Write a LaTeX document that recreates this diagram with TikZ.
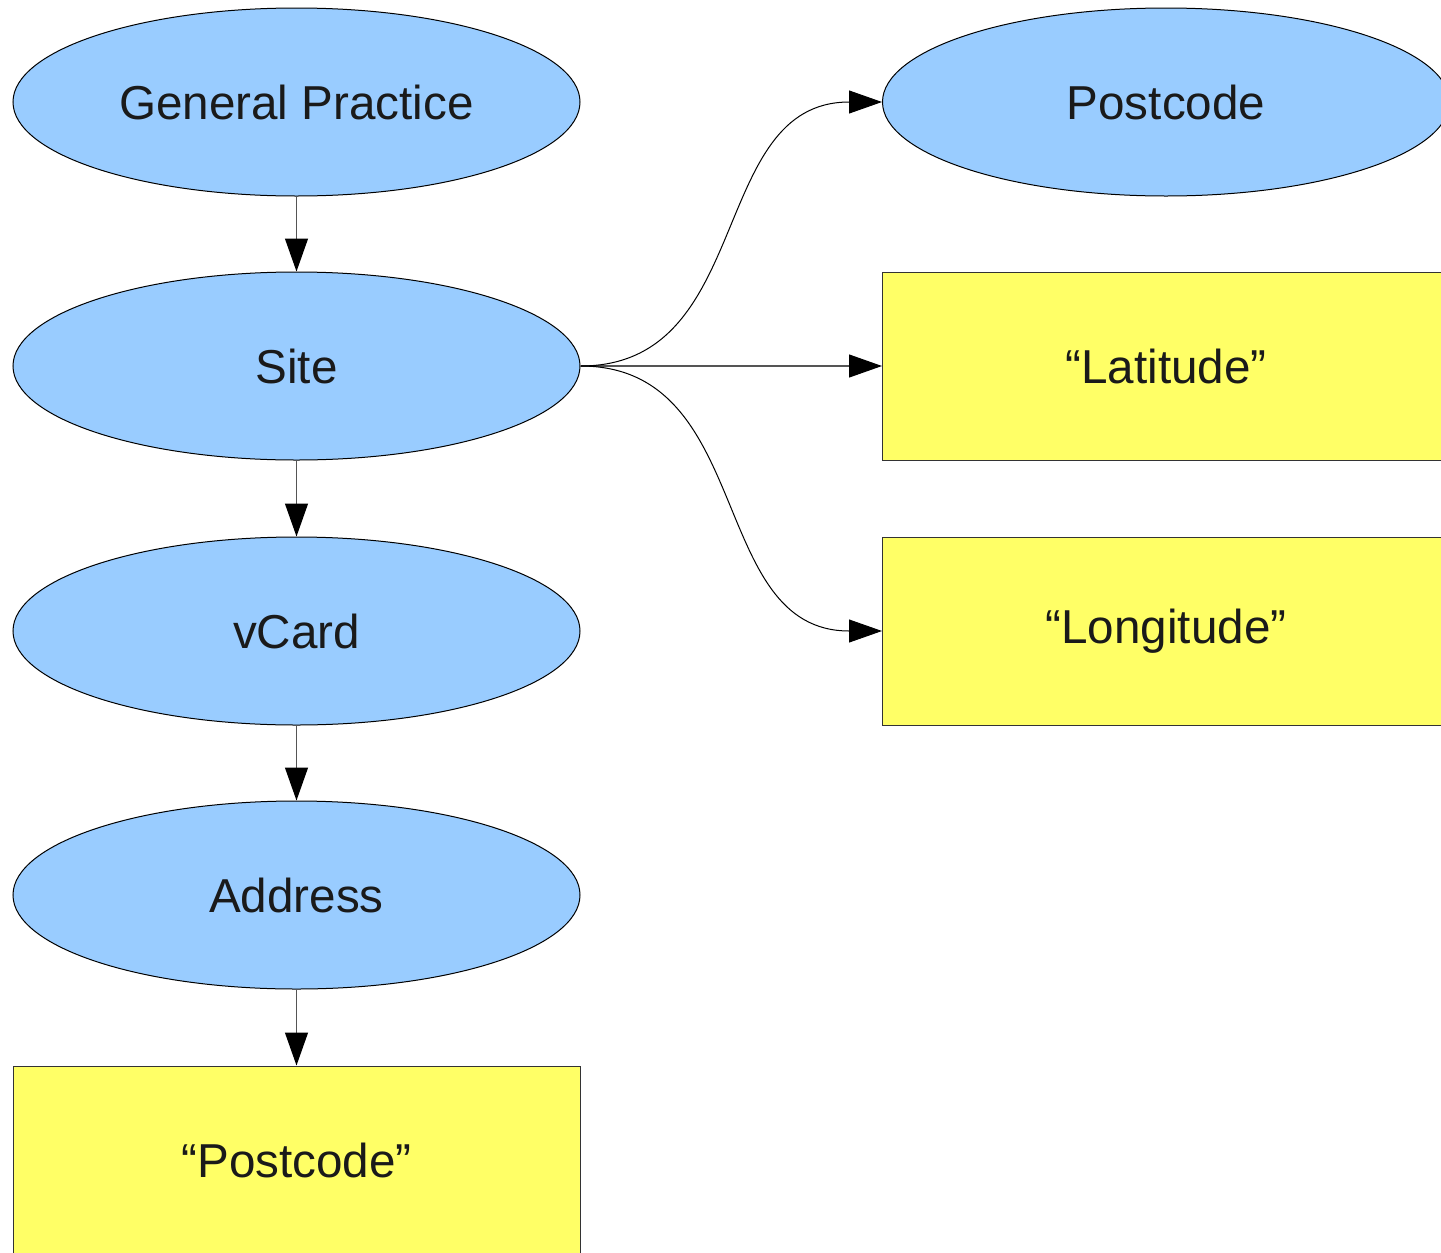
\documentclass[tikz,border=0pt]{standalone}
\usepackage{fontspec}
\setmainfont{Liberation Sans}
\usetikzlibrary{shapes.geometric,arrows.meta}
\definecolor{nodeblue}{HTML}{99CCFF}
\definecolor{nodeyellow}{HTML}{FFFF66}
\definecolor{txt}{HTML}{1A1A1A}
\definecolor{shaft}{HTML}{555555}
\begin{document}
\begin{tikzpicture}[x=0.5pt,y=-0.5pt,
  oval/.style={ellipse,draw=black,line width=0.5pt,fill=nodeblue,minimum width=283.5pt,minimum height=94pt,inner sep=0pt,font=\fontsize{23.8}{28}\selectfont,text=txt},
  lit/.style={rectangle,draw=black!80,line width=0.5pt,fill=nodeyellow,minimum width=283.5pt,minimum height=94pt,inner sep=0pt,font=\fontsize{23.8}{28}\selectfont,text=txt},
  conn/.style={draw=shaft,line width=0.6pt,-{Triangle[length=16.5pt,width=11.5pt,fill=black]},arrows={[color=black]}},
  curv/.style={draw=black,line width=0.5pt,-{Triangle[length=16.5pt,width=11.5pt,fill=black]}}]
\useasboundingbox (0,0) rectangle (1441,1253);
\node[oval] (gp) at (296.5,102) {General Practice};
\node[oval] (site) at (296.5,366) {Site};
\node[oval] (vcard) at (296.5,631) {vCard};
\node[oval] (addr) at (296.5,895) {Address};
\node[lit] (pcl) at (296.5,1160) {“Postcode”};
\node[oval] (pc) at (1166,102) {Postcode};
\node[lit] (lat) at (1166,366) {“Latitude”};
\node[lit] (lon) at (1166,631) {“Longitude”};
\draw[conn] (gp.south) -- (site.north);
\draw[conn] (site.south) -- (vcard.north);
\draw[conn] (vcard.south) -- (addr.north);
\draw[conn] (addr.south) -- (pcl.north);
\draw[conn] (site.east) -- (lat.west);
\draw[curv] (site.east) .. controls +(175,0) and +(-175,0) .. (pc.west);
\draw[curv] (site.east) .. controls +(175,0) and +(-175,0) .. (lon.west);
\end{tikzpicture}
\end{document}
